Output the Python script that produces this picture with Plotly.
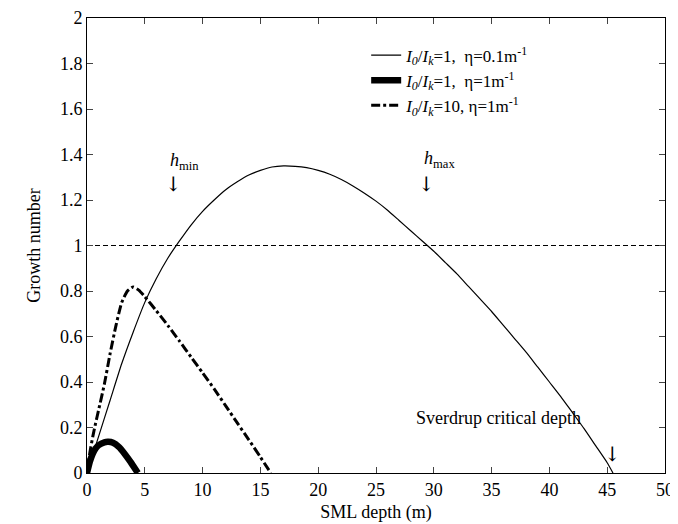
import plotly.graph_objects as go

# Thin line: I0/Ik=1, eta=0.1 m^-1
depth_a = [0, 1, 2, 3, 4, 5, 6, 7, 8, 9, 10, 11, 12, 13, 14, 15, 16, 17, 18, 19, 20, 21, 22, 23, 24,
           25, 26, 27, 28, 29, 30, 31, 32, 33, 34, 35, 36, 37, 38, 39, 40, 41, 42, 43, 44, 45, 45.5]
growth_a = [0, 0.16, 0.32, 0.48, 0.62, 0.75, 0.855, 0.945, 1.02, 1.09, 1.15, 1.2, 1.245, 1.28, 1.31,
            1.33, 1.345, 1.35, 1.348, 1.342, 1.33, 1.313, 1.29, 1.262, 1.23, 1.195, 1.155, 1.11,
            1.065, 1.02, 0.975, 0.925, 0.875, 0.82, 0.765, 0.71, 0.65, 0.59, 0.53, 0.465, 0.40,
            0.335, 0.265, 0.195, 0.12, 0.045, 0.0]

# Thick line: I0/Ik=1, eta=1 m^-1
depth_b = [0, 0.25, 0.5, 0.75, 1, 1.5, 1.84, 2.25, 2.75, 3.25, 3.75, 4.4]
growth_b = [0, 0.05, 0.085, 0.108, 0.122, 0.135, 0.137, 0.133, 0.115, 0.085, 0.05, 0.0]

# Dash-dot line: I0/Ik=10, eta=1 m^-1
depth_c = [0, 0.25, 0.5, 0.75, 1, 1.5, 2, 2.5, 3, 3.5, 4, 4.5, 5, 6, 7, 8, 9, 10, 11, 12, 13, 14, 15, 15.9]
growth_c = [0, 0.09, 0.16, 0.22, 0.276, 0.39, 0.525, 0.647, 0.749, 0.80, 0.818, 0.803, 0.775, 0.713,
            0.648, 0.58, 0.51, 0.44, 0.37, 0.295, 0.22, 0.146, 0.07, 0.0]

threshold_x = [0, 50]
threshold_y = [1, 1]

names = [
    "<i>I</i><sub><i>0</i></sub>/<i>I</i><sub><i>k</i></sub>=1,\u00a0\u00a0\u03b7=0.1m<sup>-1</sup>",
    "<i>I</i><sub><i>0</i></sub>/<i>I</i><sub><i>k</i></sub>=1,\u00a0\u00a0\u03b7=1m<sup>-1</sup>",
    "<i>I</i><sub><i>0</i></sub>/<i>I</i><sub><i>k</i></sub>=10, \u03b7=1m<sup>-1</sup>",
]

FONT = "Liberation Serif, Times New Roman, serif"
ARROW_FONT = "DejaVu Serif, serif"

fig = go.Figure()
fig.add_trace(go.Scatter(x=threshold_x, y=threshold_y, mode="lines",
                         line=dict(color="black", width=1.2, dash="5px,3px"), showlegend=False))
fig.add_trace(go.Scatter(x=depth_a, y=growth_a, mode="lines", name=names[0],
                         line=dict(color="black", width=1.2, shape="spline", smoothing=0.5)))
fig.add_trace(go.Scatter(x=depth_b, y=growth_b, mode="lines", name=names[1],
                         line=dict(color="black", width=6.5, shape="spline", smoothing=0.5)))
fig.add_trace(go.Scatter(x=depth_c, y=growth_c, mode="lines", name=names[2],
                         line=dict(color="black", width=3, dash="dashdot", shape="spline", smoothing=0.5)))

annotations = [
    dict(x=7.0, y=1.37, text="<i>h</i><sub>min</sub>", xanchor="left", font_size=18),
    dict(x=7.45, y=1.27, text="\u2193", font_size=20, font_family=ARROW_FONT),
    dict(x=29.0, y=1.38, text="<i>h</i><sub>max</sub>", xanchor="left", font_size=18),
    dict(x=29.4, y=1.27, text="\u2193", font_size=20, font_family=ARROW_FONT),
    dict(x=35.6, y=0.24, text="Sverdrup critical depth", font_size=18),
    dict(x=45.5, y=0.085, text="\u2193", font_size=20, font_family=ARROW_FONT),
]
for a in annotations:
    fs = a.pop("font_size")
    ff = a.pop("font_family", FONT)
    a.update(xref="x", yref="y", showarrow=False, font=dict(family=ff, size=fs, color="black"))

# The page body adds an 8px offset; size and margins compensate so the plot area
# lands at about x 87..665, y 18..473 in the 678x524 window.
fig.update_layout(
    width=670, height=516,
    margin=dict(l=79, r=13, t=10, b=51),
    paper_bgcolor="white", plot_bgcolor="white",
    font=dict(family=FONT, size=18, color="black"),
    annotations=annotations,
    legend=dict(x=0.483, y=0.957, xanchor="left", yanchor="top",
                bgcolor="rgba(0,0,0,0)", font=dict(family=FONT, size=17),
                tracegroupgap=0, itemwidth=30),
)
fig.update_xaxes(range=[0, 50], tickvals=list(range(0, 55, 5)), ticks="inside", ticklen=6,
                 showline=True, linecolor="black", linewidth=1, mirror="ticks",
                 showgrid=False, zeroline=False, automargin=False, ticklabeloverflow="allow",
                 tickfont=dict(family=FONT, size=18),
                 title=dict(text="SML depth (m)", standoff=6, font=dict(family=FONT, size=18)))
fig.update_yaxes(range=[0, 2], tickvals=[0, 0.2, 0.4, 0.6, 0.8, 1, 1.2, 1.4, 1.6, 1.8, 2],
                 ticktext=["0", "0.2", "0.4", "0.6", "0.8", "1", "1.2", "1.4", "1.6", "1.8", "2"],
                 ticks="inside", ticklen=6,
                 showline=True, linecolor="black", linewidth=1, mirror="ticks",
                 showgrid=False, zeroline=False, automargin=False, ticklabeloverflow="allow",
                 tickfont=dict(family=FONT, size=18),
                 title=dict(text="Growth number", standoff=14, font=dict(family=FONT, size=18)))

fig.write_html("out.html")
